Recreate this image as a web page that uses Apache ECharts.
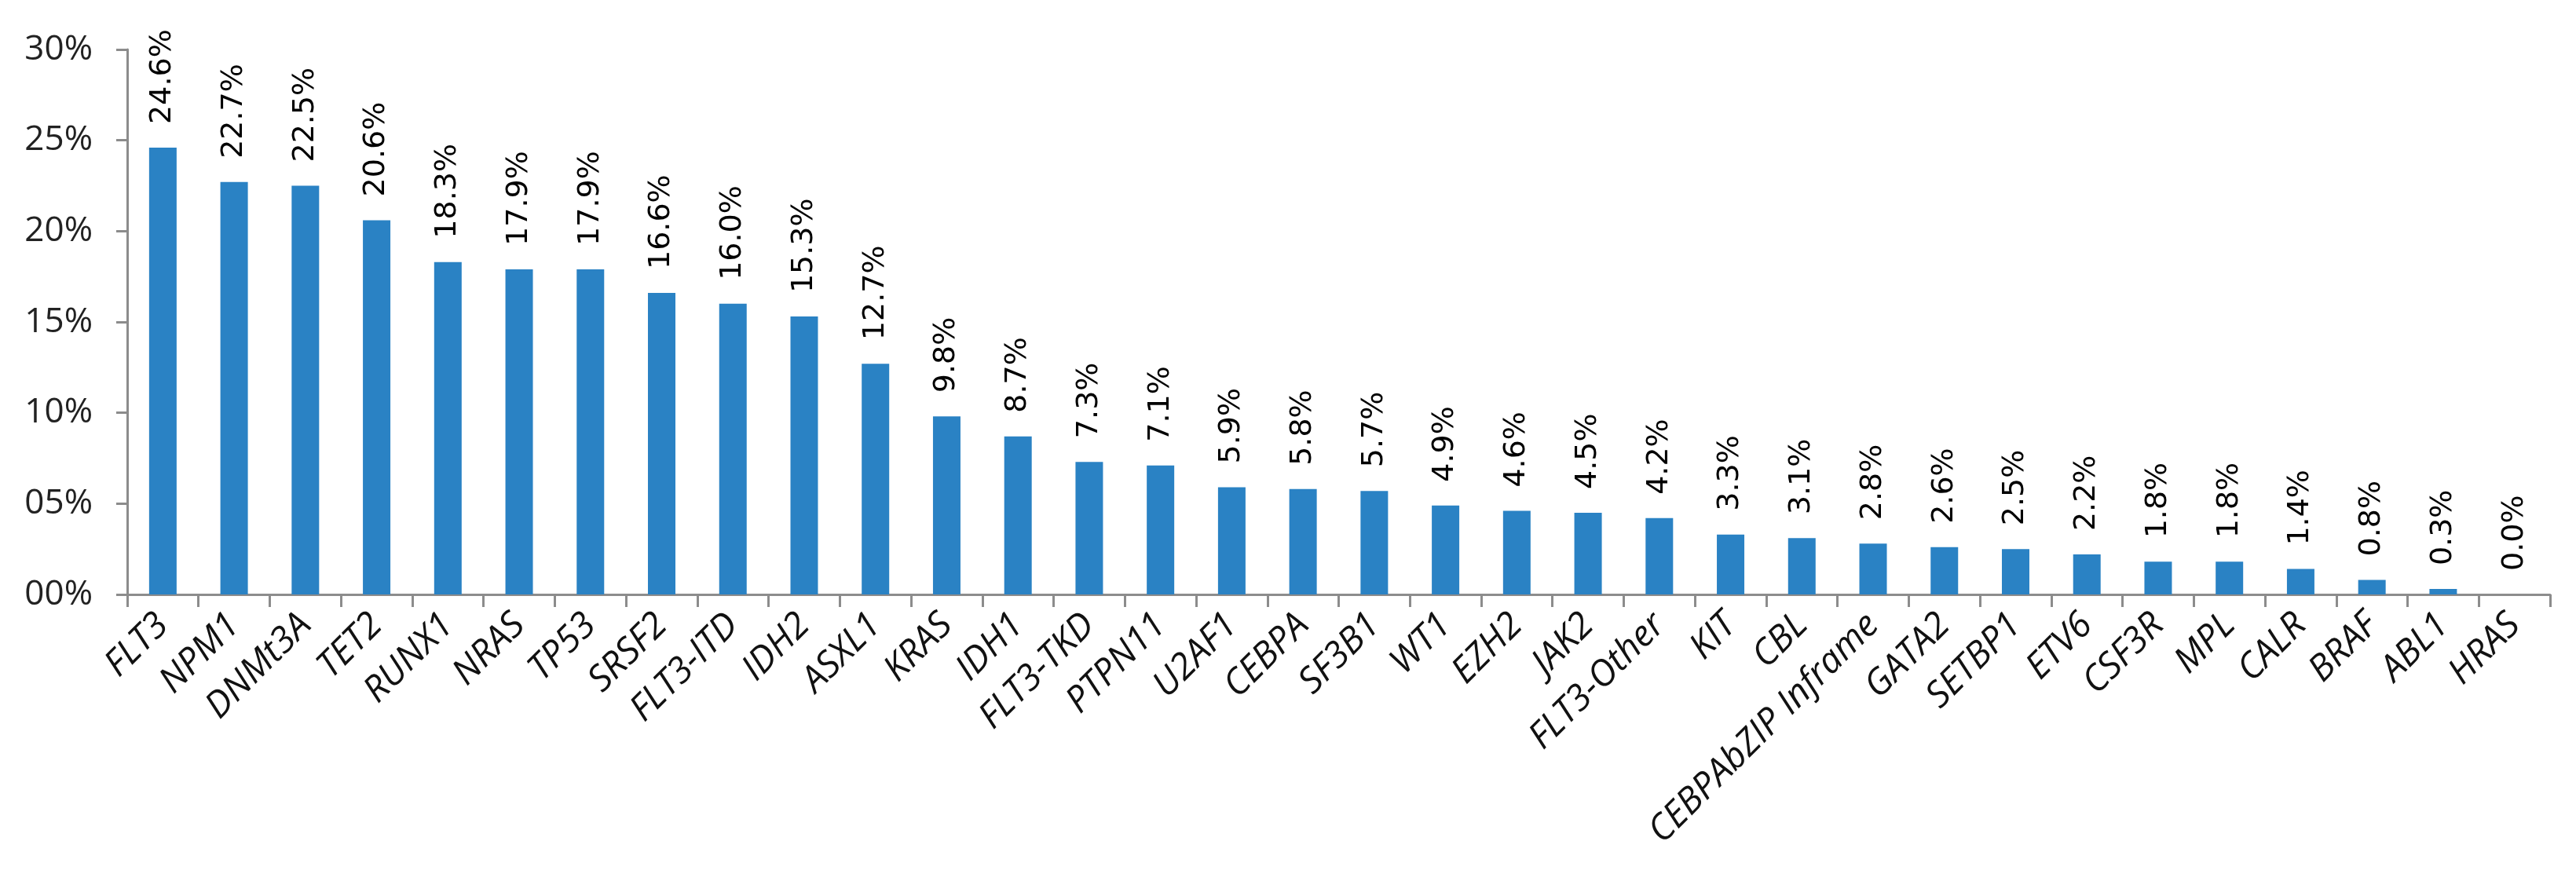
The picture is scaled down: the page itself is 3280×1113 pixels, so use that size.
<!DOCTYPE html>
<html>
<head>
<meta charset="utf-8">
<script src="https://cdn.jsdelivr.net/npm/echarts@6/dist/echarts.min.js"></script>
<style>
 html, body { margin: 0; padding: 0; background: #fff; }
 #chart { width: 3280px; height: 1113px; }
</style>
</head>
<body>
<div id="chart"></div>
<script>
const genes = ['FLT3', 'NPM1', 'DNMt3A', 'TET2', 'RUNX1', 'NRAS', 'TP53', 'SRSF2', 'FLT3-ITD', 'IDH2',
 'ASXL1', 'KRAS', 'IDH1', 'FLT3-TKD', 'PTPN11', 'U2AF1', 'CEBPA', 'SF3B1', 'WT1', 'EZH2',
 'JAK2', 'FLT3-Other', 'KIT', 'CBL', 'CEBPAbZIP Inframe', 'GATA2', 'SETBP1', 'ETV6', 'CSF3R', 'MPL',
 'CALR', 'BRAF', 'ABL1', 'HRAS']
const freq = [24.6, 22.7, 22.5, 20.6, 18.3, 17.9, 17.9, 16.6, 16.0, 15.3,
 12.7, 9.8, 8.7, 7.3, 7.1, 5.9, 5.8, 5.7, 4.9, 4.6,
 4.5, 4.2, 3.3, 3.1, 2.8, 2.6, 2.5, 2.2, 1.8, 1.8,
 1.4, 0.8, 0.3, 0.0]
const yTicks = ['00%', '05%', '10%', '15%', '20%', '25%', '30%']

const axisGrey = '#8c8c8c'

const setOption = () => {
 return {
  animation: false,
  grid: {
   left: 162,
   right: 33,
   top: 63,
   bottom: 356
  },
  xAxis: {
   type: 'category',
   data: genes,
   axisLine: { lineStyle: { color: axisGrey, width: 3 } },
   axisTick: { show: true, length: 16, lineStyle: { color: axisGrey, width: 3 } },
   axisLabel: {
    rotate: 45,
    interval: 0,
    margin: 32,
    color: '#111',
    fontFamily: 'Open Sans',
    fontStyle: 'italic',
    fontSize: 46
   }
  },
  yAxis: {
   type: 'value',
   min: 0,
   max: 30,
   interval: 5,
   splitLine: { show: false },
   axisLine: { show: true, lineStyle: { color: axisGrey, width: 3 } },
   axisTick: { show: true, length: 14, lineStyle: { color: axisGrey, width: 3 } },
   axisLabel: {
    margin: 44,
    color: '#222',
    fontFamily: 'Open Sans',
    fontSize: 44,
    formatter: function (v) {
     return yTicks[Math.round(v / 5)]
    }
   }
  },
  series: [
   {
    type: 'bar',
    data: freq,
    barWidth: 35,
    itemStyle: { color: '#2a82c4' },
    label: {
     show: true,
     position: 'top',
     distance: 30,
     rotate: 90,
     align: 'left',
     verticalAlign: 'middle',
     color: '#000',
     fontFamily: 'DejaVu Sans',
     fontSize: 38,
     formatter: function (p) {
      return p.value.toFixed(1) + '%'
     }
    }
   }
  ]
 }
}

const chartDom = document.getElementById('chart')
const myChart = echarts.init(chartDom)
myChart.setOption(setOption(), true)
</script>
</body>
</html>
